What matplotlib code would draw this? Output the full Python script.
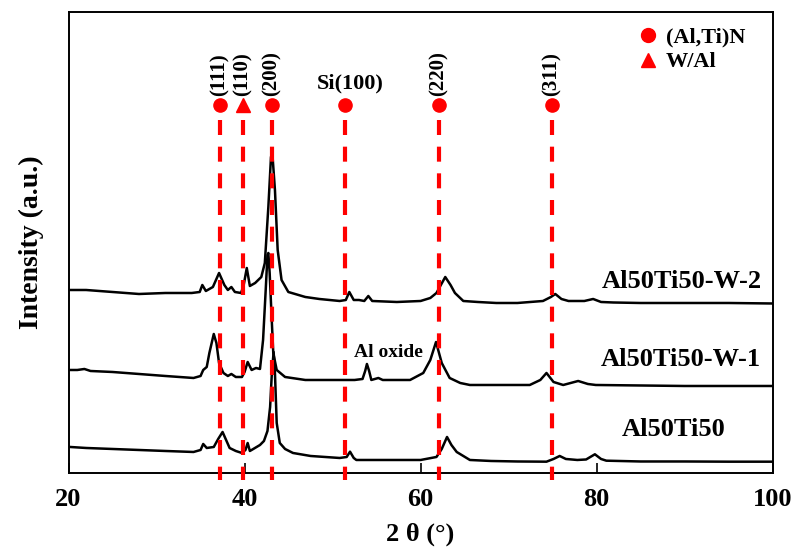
import matplotlib
matplotlib.use("Agg")
import matplotlib.pyplot as plt
from matplotlib.lines import Line2D
import numpy as np

plt.rcParams["font.family"] = ["Liberation Serif", "DejaVu Serif"]
plt.rcParams["font.weight"] = "bold"
plt.rcParams["axes.labelweight"] = "bold"

# XRD patterns (intensity in arbitrary units, already offset for stacking)
tt_w2 = [20.2, 22, 25, 28, 31, 34, 34.9, 35.2, 35.6, 36.4, 37.1, 37.7, 38.1, 38.5, 38.9,
         39.6, 39.9, 40.25, 40.6, 41.2, 41.9, 42.3, 42.7, 43.0, 43.15, 43.45, 43.76, 44.2,
         44.97, 46.9, 48.5, 50.8, 51.5, 51.9, 52.4, 53.0, 53.6, 54.06, 54.5, 57.3, 60, 61.1,
         61.8, 62.3, 62.8, 63.4, 63.9, 64.85, 66.5, 68.6, 71, 73.9, 74.8, 75.3, 76.0, 76.8,
         77.7, 78.6, 79.6, 80.5, 81.9, 85, 90, 95, 100]
int_w2 = [183, 183, 181, 179, 180, 180, 181, 188, 182, 186, 200, 188, 183, 186, 181,
          180, 188, 205, 187, 190, 196, 210, 266, 316, 320, 283, 223, 193,
          181, 176, 174, 172, 173, 181, 173, 173, 172, 177, 172, 171, 172, 175,
          180, 188, 196, 188, 180, 172, 171, 170, 170, 172, 176, 179, 174, 172,
          172, 172, 174, 171, 170.5, 170, 170, 170, 169.5]

tt_w1 = [20.2, 21, 21.8, 22.5, 25, 28, 31, 34.2, 35.0, 35.3, 35.7, 36.0, 36.5, 36.8, 37.1,
         37.6, 38.1, 38.5, 39.0, 39.7, 40.0, 40.35, 40.8, 41.3, 41.75, 42.1, 42.4, 42.6,
         42.7, 42.85, 43.05, 43.26, 43.65, 44.6, 46.9, 49.7, 52.5, 53.4, 53.7, 53.9, 54.15,
         54.4, 55.2, 55.7, 58.8, 60.3, 61.1, 61.75, 62.4, 63.3, 64.5, 65.6, 68, 72.4, 73.6,
         74.3, 75.1, 76.2, 77.9, 79.0, 79.9, 85, 90, 95, 100]
int_w1 = [103, 103, 104, 102, 101, 99, 97, 95, 97, 103, 106, 120, 139, 130, 110,
          100, 97, 99, 96, 96, 101, 111, 103, 105, 104, 133, 183, 218,
          220, 200, 160, 120, 103, 96, 93, 93, 93, 94, 102, 109, 102,
          93, 95, 93, 93, 100, 113, 131, 110, 95, 90, 88, 88, 88, 93,
          100, 91, 88, 92, 89, 88, 87.5, 87, 87, 87]

tt_ref = [20.2, 22, 25, 28, 31, 34.2, 35.0, 35.3, 35.7, 36.5, 37.0, 37.5, 37.9, 38.3, 39.0,
          39.7, 40.1, 40.35, 40.6, 40.8, 41.75, 42.2, 42.6, 42.9, 43.1, 43.3, 43.45, 43.65,
          44.0, 44.6, 45.5, 47.5, 50.8, 51.6, 51.98, 52.4, 52.7, 55, 57.3, 60, 61.8, 62.4,
          63.0, 63.5, 64.1, 65.6, 68, 71, 74.3, 75.1, 75.8, 76.5, 77.8, 78.8, 79.8, 80.5,
          81.1, 85, 90, 95, 100]
int_ref = [26, 25, 24, 23, 22, 21, 23, 29, 25, 26, 34, 41, 33, 25, 22,
           20, 23, 30, 22, 23, 28, 32, 42, 66, 100, 121, 100, 50,
           30, 24, 20, 17, 15, 16, 21.3, 15, 13, 13, 13, 13, 16, 24,
           36, 28, 21, 13, 12, 11.5, 11.3, 14, 17, 14, 13, 13.5, 18.7, 14,
           12.3, 11.5, 11.5, 11.3, 11.3]

series_names = ["Al50Ti50-W-2", "Al50Ti50-W-1", "Al50Ti50"]

# reference peak positions
peak_pos = [37.2, 39.8, 43.1, 51.4, 62.1, 74.9]
peak_marker = ["o", "^", "o", "o", "o", "o"]
peak_hkl = ["(111)", "(110)", "(200)", "", "(220)", "(311)"]


def main():
    fig = plt.figure(figsize=(7.97, 5.51), dpi=100)
    ax = fig.add_axes([0.086, 0.1416, 0.8835, 0.8366])

    for tt, inten in [(tt_w2, int_w2), (tt_w1, int_w1), (tt_ref, int_ref)]:
        ax.plot(tt, inten, color="black", lw=1.8, solid_joinstyle="round", zorder=2)

    # dashed reference lines + markers
    for pos, mk, hkl in zip(peak_pos, peak_marker, peak_hkl):
        ax.plot([pos, pos], [353, -7], color="red", lw=3.0, dashes=(3.6, 2.8),
                clip_on=False, zorder=3)
        ax.plot(pos, 368, marker=mk, color="red", markersize=9.5, ls="", zorder=3)
        if hkl:
            ax.text(pos, 377, hkl, rotation=90, ha="center", va="bottom", fontsize=15)
    ax.text(52.0, 390, "Si(100)", ha="center", va="center", fontsize=16)
    ax.text(56.4, 120, "Al oxide", ha="center", va="center", fontsize=14)

    # sample labels
    ax.text(89.7, 191, series_names[0], ha="center", va="center", fontsize=19)
    ax.text(89.6, 113, series_names[1], ha="center", va="center", fontsize=19)
    ax.text(88.7, 43, series_names[2], ha="center", va="center", fontsize=19)

    handles = [Line2D([], [], marker="o", color="red", ls="", markersize=10),
               Line2D([], [], marker="^", color="red", ls="", markersize=10)]
    ax.legend(handles, ["(Al,Ti)N", "W/Al"], loc="upper left", bbox_to_anchor=(0.81, 0.968),
              frameon=False, borderaxespad=0, borderpad=0, handlelength=0.8,
              handletextpad=0.4, labelspacing=0.2, prop={"size": 16, "weight": "bold"})

    ax.set_xlim(20, 100)
    ax.set_ylim(0, 461)
    ax.set_xticks([20, 40, 60, 80, 100])
    ax.set_yticks([])
    ax.tick_params(axis="x", direction="in", length=7, width=1.2, labelsize=19, pad=11)
    for s in ax.spines.values():
        s.set_linewidth(1.4)
    ax.set_xlabel("2 θ (°)", fontsize=19, labelpad=8)
    ax.set_ylabel("Intensity (a.u.)", fontsize=20, labelpad=18)

    fig.savefig("out.png", dpi=100)


if __name__ == "__main__":
    main()
